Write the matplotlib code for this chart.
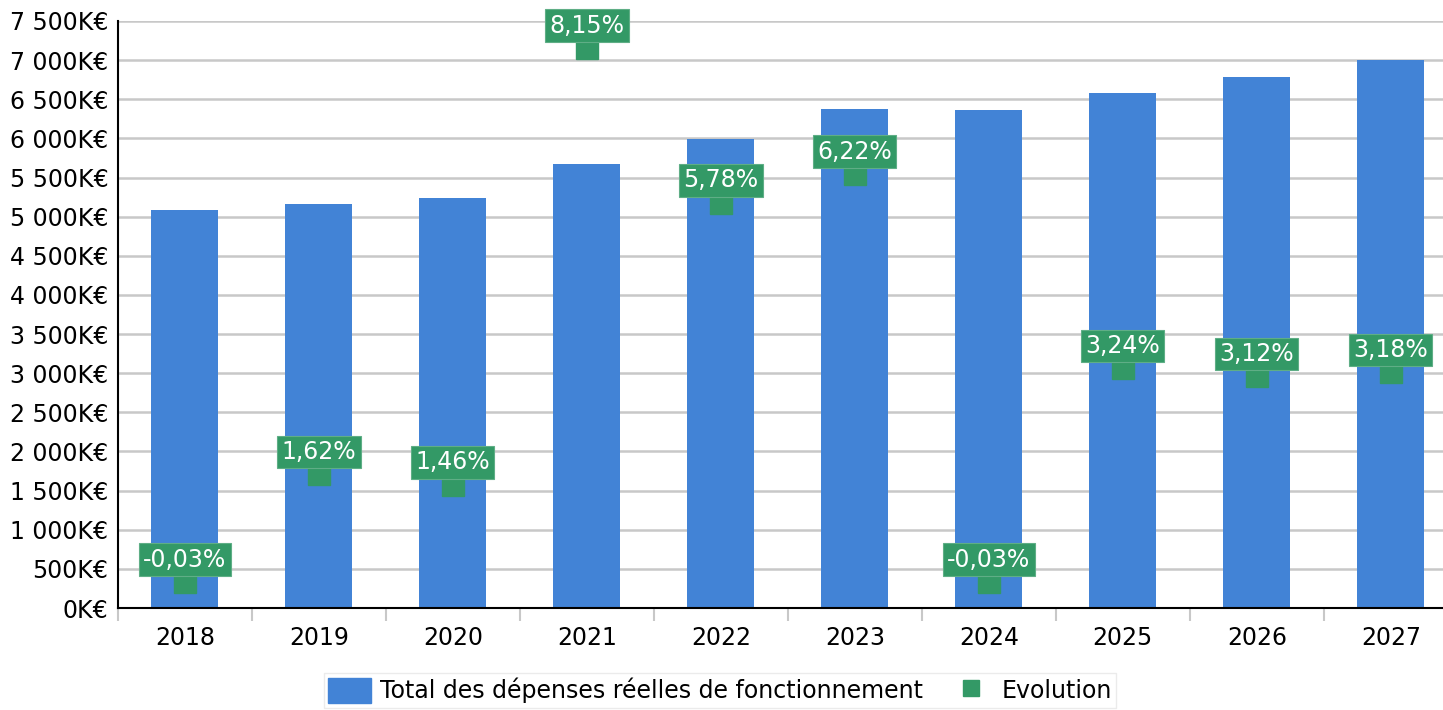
import numpy as np
import matplotlib
matplotlib.use("Agg")
import matplotlib.pyplot as plt
from matplotlib.patches import Patch
from matplotlib.lines import Line2D
from matplotlib.ticker import FuncFormatter, MultipleLocator

years = ["2018", "2019", "2020", "2021", "2022", "2023", "2024", "2025", "2026", "2027"]
depenses = [5085, 5167, 5243, 5670, 5998, 6371, 6369, 6575, 6780, 6996]  # K€
evolution = [-0.03, 1.62, 1.46, 8.15, 5.78, 6.22, -0.03, 3.24, 3.12, 3.18]  # %

blue = "#4283d6"
green = "#339966"

plt.rcParams["font.family"] = ["DejaVu Sans"]

fig = plt.figure(figsize=(14.43, 7.10), dpi=100)
ax = fig.add_axes([118 / 1443, 102 / 710, 1325 / 1443, 587 / 710])

x = np.arange(len(years))
ax.bar(x, depenses, width=0.5, color=blue, zorder=2)

ax.set_ylim(0, 7500)
ax.yaxis.set_major_locator(MultipleLocator(500))


def kfmt(v, pos):
    return "{:,.0f}".format(v).replace(",", " ") + "K€"


ax.yaxis.set_major_formatter(FuncFormatter(kfmt))
ax.grid(axis="y", color="#c8c8c8", linewidth=1.8)
ax.set_axisbelow(True)

for s in ["top", "right"]:
    ax.spines[s].set_visible(False)
ax.spines["left"].set_linewidth(1.5)
ax.spines["bottom"].set_linewidth(1.5)

ax.set_xticks(x)
ax.set_xticklabels(years)
ax.set_xticks(np.arange(-0.5, 10, 1), minor=True)
ax.tick_params(axis="x", which="major", length=0, pad=13, labelsize=17)
ax.tick_params(axis="x", which="minor", length=9, width=1.5, color="#c8c8c8")
ax.tick_params(axis="y", length=0, pad=7, labelsize=17)

# evolution sur un second axe cache
ax2 = ax.twinx()
ax2.set_ylim(-0.43, 8.56)
ax2.axis("off")
ax2.plot(x, evolution, linestyle="none", marker="s", markersize=16, color=green, zorder=3)
for xi, v in zip(x, evolution):
    lab = "{:.2f}".format(v).replace(".", ",") + "%"
    ax2.annotate(lab, (xi, v), xytext=(0, 16), textcoords="offset points",
                 ha="center", va="center", color="white", fontsize=17,
                 annotation_clip=False, zorder=4,
                 bbox=dict(boxstyle="square,pad=0.18", facecolor=green, edgecolor="#5fae86", linewidth=0.8))

# apres le plot du twinx sinon l'autoscale change les limites
ax.set_xlim(-0.5, 9.39)

handles = [
    Patch(facecolor=blue, edgecolor=blue),
    Line2D([], [], linestyle="none", marker="s", markersize=12, color=green),
]
leg = fig.legend(handles, ["Total des dépenses réelles de fonctionnement", "Evolution"],
                 loc="upper center", bbox_to_anchor=(0.499, 0.052), borderaxespad=0,
                 ncol=2, fontsize=17, frameon=True, fancybox=False, edgecolor="#e6e6e6",
                 handlelength=1.8, handleheight=1.25, columnspacing=1.1,
                 borderpad=0.2, handletextpad=0.4)
leg.get_frame().set_linewidth(1.0)

fig.savefig("out.png", dpi=100)
